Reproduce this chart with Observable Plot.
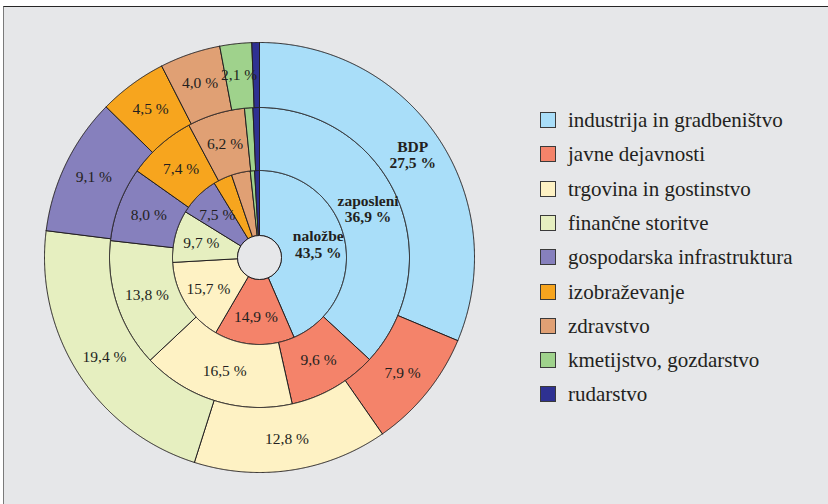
<!DOCTYPE html>
<html><head><meta charset="utf-8">
<script src="https://cdn.jsdelivr.net/npm/d3@7"></script>
<script src="https://cdn.jsdelivr.net/npm/@observablehq/plot@0.6"></script>
<style>
html,body{margin:0;padding:0;background:#fff;width:828px;height:504px;overflow:hidden;}
#panel{position:absolute;left:3px;top:6px;width:825px;height:498px;background:#e6e7e9;border-top:1.6px solid #262626;border-left:1.3px solid #7a7a7a;box-sizing:border-box;}
#chart{position:absolute;left:39px;top:37px;}
#legend{position:absolute;left:0;top:0;font-family:"Liberation Serif","DejaVu Serif",serif;font-size:21px;color:#231f20;}
.sw{position:absolute;width:16px;height:16px;box-sizing:border-box;border:1px solid #3a3a3a;}
.lt{position:absolute;line-height:1;white-space:nowrap;}
</style>
</head><body>
<div id="panel"></div>
<div id="chart"></div>
<div id="legend"></div>
<script>
const categories = ["industrija in gradbeništvo","javne dejavnosti","trgovina in gostinstvo","finančne storitve","gospodarska infrastruktura","izobraževanje","zdravstvo","kmetijstvo, gozdarstvo","rudarstvo"];
const colors = ["#a9def9","#f4836a","#fef2c4","#e6efc0","#8680bd","#f7a51e","#e0a074","#9fd28c","#2e3192"];
const rings = ["naložbe","zaposleni","BDP"];
const nalozbe = [43.5,14.9,15.7,9.7,7.5,3.5,3.5,0.8,0.9];
const zaposleni = [36.9,9.6,16.5,13.8,8.0,7.4,6.2,0.9,0.7];
const bdp = [27.5,7.9,12.8,19.4,9.1,4.5,4.0,2.1,0.5];

const radii = [[22,87],[87,150],[150,215]];
const labelR = [60,118.5,184];
const fmt = v => v.toFixed(1).replace(".", ",") + " %";

const pie = d3.pie().sort(null).value(d => d);
const polys = [], labels = [], boldLabels = [];
[nalozbe, zaposleni, bdp].forEach((vals, ri) => {
  const [r0, r1] = radii[ri];
  pie(vals).forEach((a, i) => {
    const id = ri + "-" + i;
    const span = a.endAngle - a.startAngle;
    const steps = Math.max(2, Math.ceil(span / 0.004));
    const pts = [];
    for (let k = 0; k <= steps; k++) { const t = a.startAngle + span * k / steps; pts.push([r1 * Math.sin(t), r1 * Math.cos(t)]); }
    for (let k = steps; k >= 0; k--) { const t = a.startAngle + span * k / steps; pts.push([r0 * Math.sin(t), r0 * Math.cos(t)]); }
    pts.push(pts[0]);
    pts.forEach(p => polys.push({id, cat: categories[i], x: p[0], y: p[1]}));
    const mid = (a.startAngle + a.endAngle) / 2, lr = labelR[ri];
    const pos = {x: lr * Math.sin(mid), y: lr * Math.cos(mid)};
    if (i === 0) boldLabels.push({...pos, text: rings[ri] + "\n" + fmt(vals[i])});
    else if (span * lr > 20) labels.push({...pos, text: fmt(vals[i])});
  });
});

const font = '"Liberation Serif","DejaVu Serif",serif';
const chart = Plot.plot({
  width: 440, height: 440, margin: 5,
  x: {domain: [-215, 215], axis: null},
  y: {domain: [-215, 215], axis: null},
  color: {type: "ordinal", domain: categories, range: colors},
  style: {background: "transparent", overflow: "visible"},
  marks: [
    Plot.line(polys, {x: "x", y: "y", z: "id", fill: "cat", stroke: "#231f20", strokeWidth: 1, strokeLinejoin: "round", curve: "linear"}),
    Plot.dot([{x: 0, y: 0}], {x: "x", y: "y", r: 22, fill: "#e6e7e9", stroke: "#231f20", strokeWidth: 1}),
    Plot.text(labels, {x: "x", y: "y", text: "text", fontSize: 15.5, fontFamily: font, fill: "#231f20"}),
    Plot.text(boldLabels, {x: "x", y: "y", text: "text", fontSize: 15.5, fontWeight: "bold", fontFamily: font, fill: "#231f20", lineHeight: 1.05, dy: -1})
  ]
});
document.getElementById("chart").appendChild(chart);

const legend = document.getElementById("legend");
categories.forEach((c, i) => {
  const top = 112 + i * 34.3;
  const sw = document.createElement("div");
  sw.className = "sw"; sw.style.left = "540px"; sw.style.top = top + "px"; sw.style.background = colors[i];
  const t = document.createElement("div");
  t.className = "lt"; t.style.left = "568px"; t.style.top = (top - 2) + "px"; t.textContent = c;
  legend.appendChild(sw); legend.appendChild(t);
});
</script>
</body></html>
